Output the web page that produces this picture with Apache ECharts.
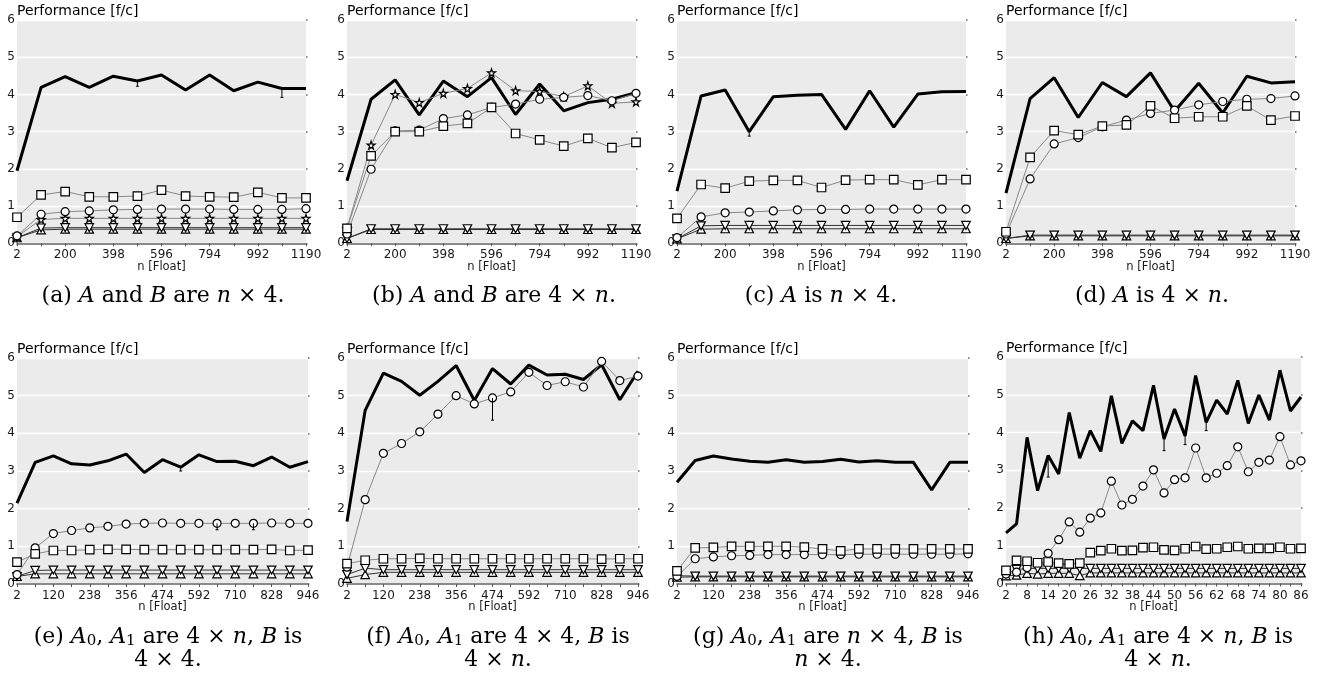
<!DOCTYPE html>
<html><head><meta charset="utf-8">
<script src="https://cdn.jsdelivr.net/npm/echarts@6/dist/echarts.min.js"></script>
<style>html,body{margin:0;padding:0;background:#fff}#c{width:1319px;height:674px}</style>
</head><body><div id="c"></div>
<script>
// ---------- categories (n [Float]) ----------
const xTop = [2, 101, 200, 299, 398, 497, 596, 695, 794, 893, 992, 1091, 1190];
const xMid = [2, 61, 120, 179, 238, 297, 356, 415, 474, 533, 592, 651, 710, 769, 828, 887, 946];
const xSmall = [2, 5, 8, 11, 14, 17, 20, 23, 26, 29, 32, 35, 38, 41, 44, 47, 50, 53, 56, 59, 62, 65, 68, 71, 74, 77, 80, 83, 86];

// ---------- (a) ----------
const aBlack  = [1.95, 4.19, 4.48, 4.19, 4.49, 4.36, 4.52, 4.12, 4.52, 4.10, 4.33, 4.16, 4.16];
const aSquare = [0.70, 1.30, 1.39, 1.25, 1.25, 1.27, 1.43, 1.27, 1.25, 1.24, 1.37, 1.22, 1.22];
const aCircle = [0.20, 0.78, 0.85, 0.87, 0.90, 0.91, 0.92, 0.92, 0.92, 0.91, 0.91, 0.91, 0.93];
const aStar   = [0.18, 0.64, 0.67, 0.67, 0.67, 0.67, 0.67, 0.67, 0.67, 0.67, 0.67, 0.67, 0.67];
const aTriDn  = [0.15, 0.41, 0.42, 0.42, 0.42, 0.42, 0.42, 0.42, 0.42, 0.42, 0.42, 0.42, 0.42];
const aTriUp  = [0.15, 0.36, 0.38, 0.38, 0.38, 0.38, 0.38, 0.38, 0.38, 0.38, 0.38, 0.38, 0.38];
const aErr    = [[5, 4.36, 4.22], [11, 4.16, 3.92]];

// ---------- (b) ----------
const bBlack  = [1.68, 3.87, 4.39, 3.45, 4.36, 3.94, 4.45, 3.46, 4.28, 3.56, 3.78, 3.87, 4.05];
const bStar   = [0.40, 2.64, 4.00, 3.78, 4.03, 4.16, 4.58, 4.10, 4.08, 3.94, 4.23, 3.76, 3.80];
const bCircle = [0.25, 1.99, 3.02, 3.04, 3.35, 3.45, 3.65, 3.74, 3.87, 3.92, 3.97, 3.83, 4.03];
const bSquare = [0.40, 2.35, 3.00, 3.00, 3.15, 3.22, 3.65, 2.95, 2.78, 2.61, 2.82, 2.57, 2.71];
const bTriDn  = [0.13, 0.39, 0.39, 0.39, 0.39, 0.39, 0.39, 0.39, 0.39, 0.39, 0.39, 0.39, 0.39];
const bTriUp  = [0.13, 0.37, 0.37, 0.37, 0.37, 0.37, 0.37, 0.37, 0.37, 0.37, 0.37, 0.37, 0.37];
const bErr    = [];

// ---------- (c) ----------
const cBlack  = [1.40, 3.96, 4.12, 3.00, 3.94, 3.98, 4.00, 3.06, 4.10, 3.12, 4.01, 4.07, 4.08];
const cSquare = [0.67, 1.58, 1.48, 1.67, 1.69, 1.69, 1.50, 1.70, 1.71, 1.71, 1.57, 1.71, 1.71];
const cCircle = [0.15, 0.71, 0.82, 0.84, 0.87, 0.90, 0.91, 0.91, 0.92, 0.92, 0.92, 0.92, 0.92];
const cTriDn  = [0.12, 0.47, 0.48, 0.48, 0.48, 0.48, 0.48, 0.48, 0.48, 0.48, 0.48, 0.48, 0.48];
const cTriUp  = [0.12, 0.38, 0.39, 0.39, 0.39, 0.39, 0.39, 0.39, 0.39, 0.39, 0.39, 0.39, 0.39];
const cErr    = [[3, 3.00, 2.88]];

// ---------- (d) ----------
const dBlack  = [1.35, 3.89, 4.45, 3.38, 4.32, 3.94, 4.58, 3.55, 4.30, 3.50, 4.49, 4.31, 4.34];
const dCircle = [0.25, 1.73, 2.67, 2.84, 3.13, 3.31, 3.49, 3.58, 3.72, 3.81, 3.87, 3.89, 3.96];
const dSquare = [0.31, 2.31, 3.03, 2.92, 3.15, 3.18, 3.69, 3.36, 3.40, 3.40, 3.69, 3.31, 3.42];
const dTriDn  = [0.13, 0.22, 0.22, 0.22, 0.22, 0.22, 0.22, 0.22, 0.22, 0.22, 0.22, 0.22, 0.22];
const dTriUp  = [0.13, 0.20, 0.20, 0.20, 0.20, 0.20, 0.20, 0.20, 0.20, 0.20, 0.20, 0.20, 0.20];
const dErr    = [];

// ---------- (e) ----------
const eBlack  = [2.15, 3.23, 3.40, 3.19, 3.16, 3.27, 3.45, 2.96, 3.30, 3.10, 3.43, 3.25, 3.26, 3.14, 3.37, 3.10, 3.25];
const eCircle = [0.25, 0.96, 1.34, 1.42, 1.49, 1.53, 1.59, 1.61, 1.62, 1.61, 1.61, 1.61, 1.61, 1.61, 1.62, 1.61, 1.61];
const eSquare = [0.58, 0.80, 0.89, 0.89, 0.91, 0.92, 0.92, 0.91, 0.91, 0.91, 0.91, 0.91, 0.91, 0.91, 0.92, 0.89, 0.90];
const eTriDn  = [0.20, 0.36, 0.37, 0.37, 0.37, 0.37, 0.37, 0.37, 0.37, 0.37, 0.37, 0.37, 0.37, 0.37, 0.37, 0.37, 0.37];
const eTriUp  = [0.20, 0.27, 0.27, 0.27, 0.27, 0.27, 0.27, 0.27, 0.27, 0.27, 0.27, 0.27, 0.27, 0.27, 0.27, 0.27, 0.27];
const eErr    = [[9, 3.10, 3.00], [11, 1.61, 1.44], [13, 1.61, 1.44]];

// ---------- (f) ----------
const fBlack  = [1.66, 4.61, 5.60, 5.38, 5.01, 5.38, 5.80, 4.87, 5.72, 5.31, 5.81, 5.55, 5.57, 5.43, 5.82, 4.89, 5.65];
const fCircle = [0.45, 2.24, 3.47, 3.73, 4.04, 4.51, 5.00, 4.78, 4.94, 5.10, 5.62, 5.27, 5.37, 5.23, 5.91, 5.40, 5.52];
const fSquare = [0.54, 0.63, 0.67, 0.67, 0.68, 0.67, 0.67, 0.67, 0.67, 0.67, 0.67, 0.67, 0.67, 0.67, 0.66, 0.67, 0.67];
const fTriDn  = [0.25, 0.42, 0.38, 0.38, 0.38, 0.38, 0.38, 0.38, 0.38, 0.38, 0.38, 0.38, 0.38, 0.38, 0.38, 0.38, 0.38];
const fTriUp  = [0.15, 0.25, 0.31, 0.31, 0.31, 0.31, 0.31, 0.31, 0.31, 0.31, 0.31, 0.31, 0.31, 0.31, 0.31, 0.31, 0.31];
const fErr    = [[8, 4.94, 4.35]];

// ---------- (g) ----------
const gBlack  = [2.70, 3.28, 3.40, 3.32, 3.26, 3.23, 3.30, 3.23, 3.25, 3.31, 3.24, 3.27, 3.23, 3.23, 2.50, 3.23, 3.23];
const gSquare = [0.35, 0.96, 0.97, 1.00, 1.00, 1.00, 1.00, 0.98, 0.93, 0.88, 0.93, 0.93, 0.93, 0.93, 0.93, 0.93, 0.93];
const gCircle = [0.20, 0.67, 0.72, 0.75, 0.76, 0.78, 0.78, 0.78, 0.78, 0.78, 0.79, 0.79, 0.79, 0.79, 0.79, 0.79, 0.80];
const gTriDn  = [0.22, 0.21, 0.21, 0.21, 0.21, 0.21, 0.21, 0.21, 0.21, 0.21, 0.21, 0.21, 0.21, 0.21, 0.21, 0.21, 0.21];
const gTriUp  = [0.18, 0.19, 0.19, 0.19, 0.19, 0.19, 0.19, 0.19, 0.19, 0.19, 0.19, 0.19, 0.19, 0.19, 0.19, 0.19, 0.19];
const gErr    = [];

// ---------- (h) ----------
const hBlack  = [1.34, 1.58, 3.87, 2.46, 3.39, 2.90, 4.53, 3.32, 4.05, 3.50, 4.97, 3.71, 4.31, 4.05, 5.25, 3.83, 4.62, 3.91, 5.51, 4.27, 4.86, 4.49, 5.38, 4.24, 4.99, 4.33, 5.65, 4.57, 4.94];
const hCircle = [0.25, 0.30, 0.42, 0.55, 0.80, 1.16, 1.63, 1.36, 1.73, 1.87, 2.71, 2.08, 2.23, 2.58, 3.01, 2.40, 2.75, 2.80, 3.59, 2.80, 2.92, 3.12, 3.62, 2.96, 3.21, 3.27, 3.89, 3.14, 3.25];
const hSquare = [0.35, 0.61, 0.59, 0.55, 0.57, 0.54, 0.52, 0.54, 0.82, 0.87, 0.92, 0.87, 0.88, 0.95, 0.96, 0.89, 0.88, 0.92, 0.98, 0.91, 0.92, 0.96, 0.98, 0.92, 0.93, 0.93, 0.96, 0.92, 0.93];
const hTriDn  = [0.25, 0.37, 0.40, 0.40, 0.40, 0.40, 0.40, 0.40, 0.40, 0.40, 0.40, 0.40, 0.40, 0.40, 0.40, 0.40, 0.40, 0.40, 0.40, 0.40, 0.40, 0.40, 0.40, 0.40, 0.40, 0.40, 0.40, 0.40, 0.40];
const hTriUp  = [0.20, 0.22, 0.27, 0.25, 0.27, 0.27, 0.27, 0.21, 0.28, 0.28, 0.28, 0.28, 0.28, 0.28, 0.28, 0.28, 0.28, 0.28, 0.28, 0.28, 0.28, 0.28, 0.28, 0.28, 0.28, 0.28, 0.28, 0.28, 0.28];
const hErr    = [[4, 3.39, 2.82], [15, 3.83, 3.52], [17, 3.91, 3.68], [19, 4.27, 4.05]];

// ---------- texts ----------
const yName = 'Performance [f/c]';
const xName = 'n [Float]';
const capA = '{r|(a) }{i|A}{r| and }{i|B}{r| are }{i|n}{r| × 4.}';
const capB = '{r|(b) }{i|A}{r| and }{i|B}{r| are 4 × }{i|n}{r|.}';
const capC = '{r|(c) }{i|A}{r| is }{i|n}{r| × 4.}';
const capD = '{r|(d) }{i|A}{r| is 4 × }{i|n}{r|.}';
const capE = '{r|(e) }{i|A}{s|0}{r|, }{i|A}{s|1}{r| are 4 × }{i|n}{r|, }{i|B}{r| is}\n{r|4 × 4.}';
const capF = '{r|(f) }{i|A}{s|0}{r|, }{i|A}{s|1}{r| are 4 × 4, }{i|B}{r| is}\n{r|4 × }{i|n}{r|.}';
const capG = '{r|(g) }{i|A}{s|0}{r|, }{i|A}{s|1}{r| are }{i|n}{r| × 4, }{i|B}{r| is}\n{i|n}{r| × 4.}';
const capH = '{r|(h) }{i|A}{s|0}{r|, }{i|A}{s|1}{r| are 4 × }{i|n}{r|, }{i|B}{r| is}\n{r|4 × }{i|n}{r|.}';

// ---------- layout ----------
const panels = [
  {g:{left:17,  top:20,  width:289, height:223.3}, x:xTop, black:aBlack, square:aSquare, circle:aCircle, star:aStar, dn:aTriDn, up:aTriUp, err:aErr, cap:capA, cx:163,  cy:296.5},
  {g:{left:347, top:20,  width:289, height:223.3}, x:xTop, black:bBlack, square:bSquare, circle:bCircle, star:bStar, dn:bTriDn, up:bTriUp, err:bErr, cap:capB, cx:494,  cy:296.5},
  {g:{left:677, top:20,  width:289, height:223.3}, x:xTop, black:cBlack, square:cSquare, circle:cCircle, star:null,  dn:cTriDn, up:cTriUp, err:cErr, cap:capC, cx:821,  cy:296.5},
  {g:{left:1006,top:20,  width:289, height:223.3}, x:xTop, black:dBlack, square:dSquare, circle:dCircle, star:null,  dn:dTriDn, up:dTriUp, err:dErr, cap:capD, cx:1152, cy:296.5},
  {g:{left:17,  top:358, width:291, height:226},   x:xMid, black:eBlack, square:eSquare, circle:eCircle, star:null,  dn:eTriDn, up:eTriUp, err:eErr, cap:capE, cx:168,  cy:649},
  {g:{left:347, top:358, width:291, height:226},   x:xMid, black:fBlack, square:fSquare, circle:fCircle, star:null,  dn:fTriDn, up:fTriUp, err:fErr, cap:capF, cx:498,  cy:649},
  {g:{left:677, top:358, width:291, height:226},   x:xMid, black:gBlack, square:gSquare, circle:gCircle, star:null,  dn:gTriDn, up:gTriUp, err:gErr, cap:capG, cx:828,  cy:649},
  {g:{left:1006,top:357, width:295, height:226.5}, x:xSmall, black:hBlack, square:hSquare, circle:hCircle, star:null, dn:hTriDn, up:hTriUp, err:hErr, cap:capH, cx:1158, cy:649}
];

const SANS = 'DejaVu Sans';
const SERIF = 'DejaVu Serif';
const STAR = 'path://M50,0 L61,35 L98,35 L68,57 L79,91 L50,70 L21,91 L32,57 L2,35 L39,35 Z';
const TRIDN = 'path://M0,0 L10,0 L5,10 Z';

const grids = [], xAxes = [], yAxes = [], series = [], graphics = [];
const mk = {color:'#fff', borderColor:'#000', borderWidth:1.2};

panels.forEach((p, i) => {
  grids.push(Object.assign({show:true, backgroundColor:'#ebebeb', borderWidth:0, containLabel:false}, p.g));
  xAxes.push({
    type:'category', gridIndex:i, data:p.x, boundaryGap:false,
    axisLine:{show:true, onZero:false, lineStyle:{color:'#8a8a8a', width:2}},
    axisTick:{show:true, interval:0, length:3, lineStyle:{color:'#555', width:1}},
    axisLabel:{interval:1, color:'#1a1a1a', fontFamily:SANS, fontSize:12, margin:6},
    splitLine:{show:false},
    name:xName, nameLocation:'middle', nameGap:23.5, nameMoveOverlap:false,
    nameTextStyle:{fontFamily:SANS, fontSize:11.5, color:'#1a1a1a', verticalAlign:'middle'}
  });
  yAxes.push({
    type:'value', gridIndex:i, min:0, max:6, interval:1,
    axisLine:{show:false}, axisTick:{show:false},
    axisLabel:{color:'#1a1a1a', fontFamily:SANS, fontSize:12, margin:2},
    splitLine:{show:true, lineStyle:{color:'#ffffff', width:1.3}},
    name:yName, nameLocation:'end', nameGap:8.5, nameMoveOverlap:false,
    nameTextStyle:{fontFamily:SANS, fontSize:14, color:'#000', align:'left', verticalAlign:'middle'}
  });
  const yi = yAxes.length - 1;
  yAxes.push({
    type:'value', gridIndex:i, min:0, max:6, interval:1, position:'right',
    axisLine:{show:false}, axisLabel:{show:false}, splitLine:{show:false},
    axisTick:{show:true, length:1.5, lineStyle:{color:'#666', width:1.5}}
  });
  const base = {type:'line', xAxisIndex:i, yAxisIndex:yi, animation:false, silent:true, showAllSymbol:true};
  series.push(Object.assign({}, base, {data:p.black, symbol:'none', lineStyle:{color:'#000', width:3}, z:2}));
  series.push(Object.assign({}, base, {data:p.up, symbol:'triangle', symbolSize:[8.5,8], itemStyle:mk, lineStyle:{color:'#333', width:1}, z:3}));
  series.push(Object.assign({}, base, {data:p.dn, symbol:TRIDN, symbolSize:[8.5,8], itemStyle:mk, lineStyle:{color:'#333', width:1}, z:3}));
  if (p.star) series.push(Object.assign({}, base, {data:p.star, symbol:STAR, symbolSize:8, itemStyle:mk, lineStyle:{color:'#888', width:1}, z:3}));
  series.push(Object.assign({}, base, {data:p.circle, symbol:'circle', symbolSize:8, itemStyle:mk, lineStyle:{color:'#888', width:1}, z:3}));
  series.push(Object.assign({}, base, {data:p.square, symbol:'rect', symbolSize:8.5, itemStyle:mk, lineStyle:{color:'#888', width:1}, z:3}));
  if (p.err.length) {
    series.push({
      type:'custom', xAxisIndex:i, yAxisIndex:yi, data:p.err, animation:false, silent:true, z:4,
      encode:{x:0, y:[1,2]},
      renderItem:function(params, api){
        const a = api.coord([api.value(0), api.value(1)]);
        const b = api.coord([api.value(0), api.value(2)]);
        return {type:'group', children:[
          {type:'line', shape:{x1:a[0], y1:a[1], x2:b[0], y2:b[1]}, style:{stroke:'#000', lineWidth:1}},
          {type:'line', shape:{x1:b[0]-1.5, y1:b[1], x2:b[0]+1.5, y2:b[1]}, style:{stroke:'#000', lineWidth:1}}
        ]};
      }
    });
  }
  graphics.push({
    type:'text', x:p.cx, y:p.cy, silent:true,
    style:{
      text:p.cap, align:'center', verticalAlign:'middle', fill:'#000',
      fontFamily:SERIF, fontSize:22,
      rich:{
        r:{fontFamily:SERIF, fontSize:22, lineHeight:23.5, fill:'#000'},
        i:{fontFamily:SERIF, fontStyle:'italic', fontSize:22, lineHeight:23.5, fill:'#000'},
        s:{fontFamily:SERIF, fontSize:15, lineHeight:11, verticalAlign:'bottom', fill:'#000'}
      }
    }
  });
});

const chart = echarts.init(document.getElementById('c'), null, {renderer:'canvas'});
chart.setOption({
  animation:false,
  textStyle:{fontFamily:SANS},
  grid:grids, xAxis:xAxes, yAxis:yAxes, series:series, graphic:graphics
});
</script>
</body></html>
